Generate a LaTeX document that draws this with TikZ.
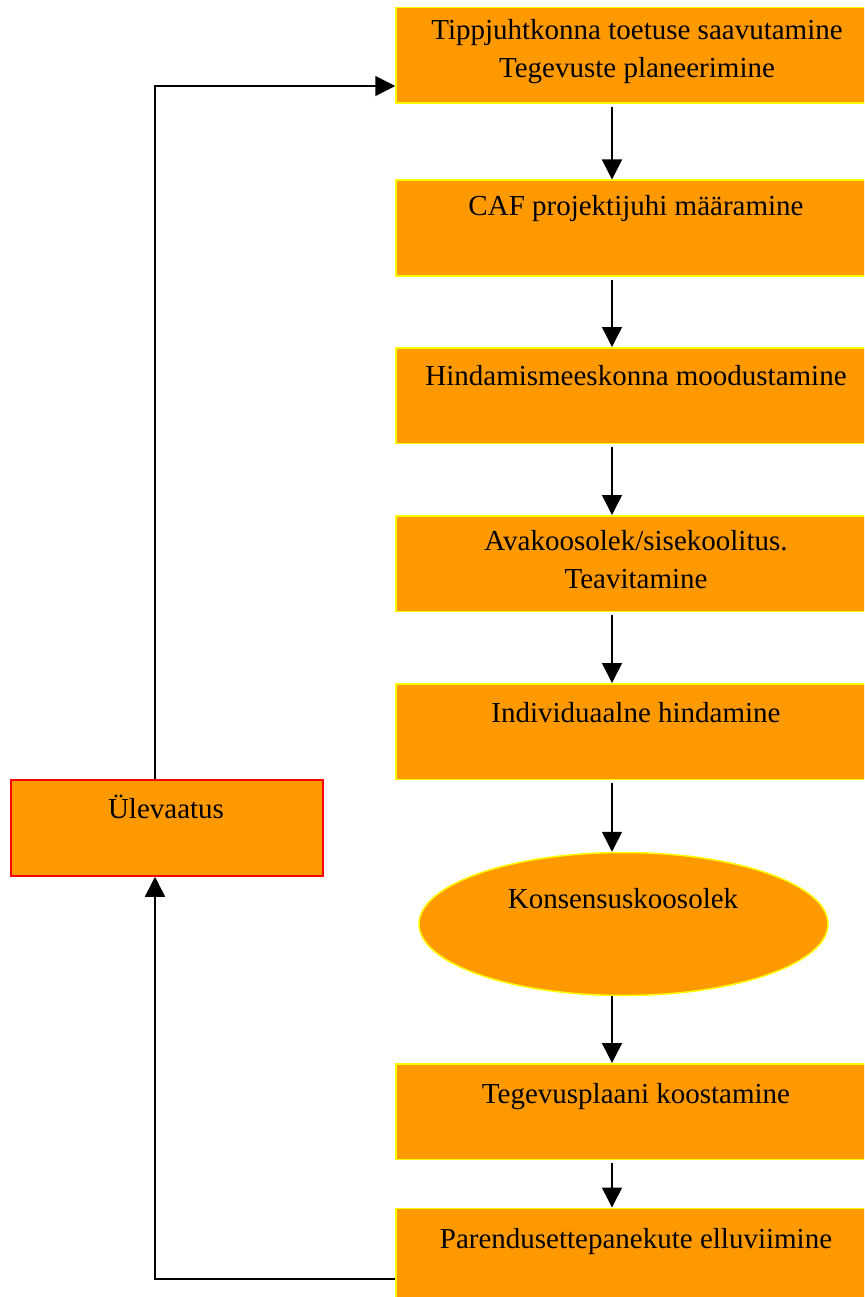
\documentclass[tikz,border=0pt]{standalone}
\usepackage{fontspec}
\setmainfont{Liberation Serif}
\usetikzlibrary{arrows.meta,shapes.geometric}
\definecolor{boxfill}{RGB}{255,153,0}
\definecolor{boxedge}{RGB}{255,255,0}
\definecolor{redge}{RGB}{255,0,0}
\tikzset{
  stepbox/.style={draw=boxedge, fill=boxfill, line width=1.5pt, rectangle, minimum width=482pt, minimum height=95.5pt, inner sep=0pt},
  revbox/.style={draw=redge, fill=boxfill, line width=1.5pt, rectangle, minimum width=312pt, minimum height=96pt, inner sep=0pt},
  oval/.style={draw=boxedge, fill=boxfill, line width=1.5pt, ellipse, minimum width=409pt, minimum height=143pt, inner sep=0pt},
  lbl/.style={anchor=base, inner sep=0pt, font=\fontsize{29}{38}\selectfont},
  conn/.style={line width=1.5pt, draw=black},
  arr/.style={conn, -{Triangle[length=20pt,width=20pt]}},
}
\newcommand{\twolines}[2]{\begin{tabular}[t]{@{}c@{}}#1\\#2\end{tabular}}
\begin{document}
\begin{tikzpicture}[x=1pt,y=-1pt]
\useasboundingbox (0,0) rectangle (864,1297);
\clip (0,0) rectangle (864,1297);
% boxes
\node[stepbox] (b1) at (637,55.5) {};
\node[stepbox] (b2) at (637,228) {};
\node[stepbox] (b3) at (637,395.5) {};
\node[stepbox] (b4) at (637,563.5) {};
\node[stepbox] (b5) at (637,731.5) {};
\node[oval] (e) at (623.5,924) {};
\node[stepbox] (b6) at (637,1111.5) {};
\node[stepbox] (b7) at (637,1256) {};
\node[revbox] (u) at (167,828) {};
% texts
\node[lbl] (t1) at (637,40) {\fontsize{29}{38}\selectfont\twolines{Tippjuhtkonna toetuse saavutamine}{Tegevuste planeerimine}};
\node[lbl] (t2) at (636,216) {CAF projektijuhi määramine};
\node[lbl] (t3) at (636,385) {Hindamismeeskonna moodustamine};
\node[lbl] (t4) at (636,550) {\fontsize{29}{38}\selectfont\twolines{Avakoosolek/sisekoolitus.}{Teavitamine}};
\node[lbl] (t5) at (636,722) {Individuaalne hindamine};
\node[lbl] (te) at (623,908) {Konsensuskoosolek};
\node[lbl] (t6) at (636,1103) {Tegevusplaani koostamine};
\node[lbl] (t7) at (636,1248) {Parendusettepanekute elluviimine};
\node[lbl] (tu) at (166,818) {Ülevaatus};
% connectors
\coordinate (ax) at (612,0);
\coordinate (lx) at (155,0);
\coordinate (by) at (0,1279);
\coordinate (ty) at (0,86);
\draw[arr] (b1.south -| ax) ++(0,3) -- (b2.north -| ax);
\draw[arr] (b2.south -| ax) ++(0,3) -- (b3.north -| ax);
\draw[arr] (b3.south -| ax) ++(0,3) -- (b4.north -| ax);
\draw[arr] (b4.south -| ax) ++(0,3) -- (b5.north -| ax);
\draw[arr] (b5.south -| ax) ++(0,3) -- (e.north -| ax);
\draw[arr] (e.south -| ax) -- (b6.north -| ax);
\draw[arr] (b6.south -| ax) ++(0,3) -- (b7.north -| ax);
\draw[arr] (b7.west |- by) -- (lx |- by) -- (lx |- u.south);
\draw[arr] (lx |- u.north) -- (lx |- ty) -- (b1.west |- ty);
\end{tikzpicture}
\end{document}
